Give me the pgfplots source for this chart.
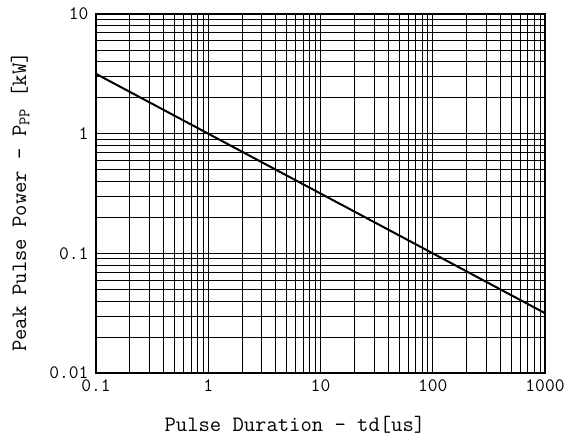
\documentclass[border=0pt]{standalone}
\usepackage{fontspec}
\setmainfont{Latin Modern Mono}
\usepackage{pgfplots}
\pgfplotsset{compat=1.18}
\begin{document}
\begin{tikzpicture}
\begin{loglogaxis}[
  at={(0,0)}, anchor=south west,
  scale only axis,
  width=449pt, height=359pt,
  xmin=0.1, xmax=1000, ymin=0.01, ymax=10,
  axis line style={line width=2.2pt},
  grid=both,
  major grid style={black, line width=1pt},
  minor grid style={black, line width=0.7pt},
  major tick length=0pt, minor tick length=0pt,
  xtick={0.1,1,10,100,1000},
  xticklabels={0.1,1,10,100,1000},
  ytick={0.01,0.1,1,10},
  yticklabels={0.01,0.1,1,10},
  /pgf/number format/assume math mode=true,
  tick label style={font=\fontsize{19}{21}\selectfont},
  xticklabel style={yshift=-3pt},
  yticklabel style={xshift=-4pt},
  xlabel={Pulse Duration – td[us]},
  ylabel={Peak Pulse Power – P\raisebox{-0.35ex}{\fontsize{16}{16}\selectfont PP} [kW]},
  label style={font=\fontsize{22}{24}\selectfont},
  xlabel style={at={(axis description cs:0.443,-0.145)}, anchor=center},
  ylabel style={at={(axis description cs:-0.169,0.476)}, anchor=center},
]
\addplot[black, line width=2pt] coordinates {(0.1,3.162) (1000,0.03162)};
\end{loglogaxis}
\pgfresetboundingbox
\path (-96pt,-68pt) rectangle (477pt,373pt);
\end{tikzpicture}
\end{document}
